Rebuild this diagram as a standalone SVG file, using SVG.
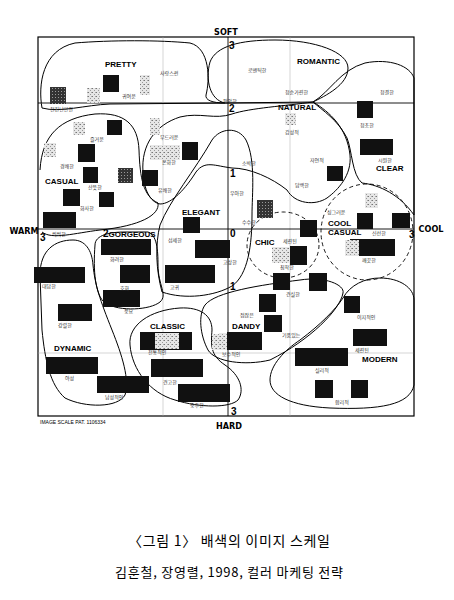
<svg xmlns="http://www.w3.org/2000/svg" width="454" height="600" viewBox="0 0 454 600">
<style>
.frame{fill:none;stroke:#000;stroke-width:1.2}
.axis{fill:none;stroke:#000;stroke-width:0.9}
.grid{fill:none;stroke:#aaa;stroke-width:0.5}
.blob{fill:none;stroke:#000;stroke-width:1}
.dash{fill:none;stroke:#000;stroke-width:0.9;stroke-dasharray:4 3}
.sw{fill:#111}
.dk{fill:url(#dkp)}
.st{fill:url(#stp)}
.lbl{font-family:"Noto Sans CJK KR","Liberation Serif",sans-serif;font-size:5px;fill:#333}
.key{font-family:"Liberation Sans",Arial,sans-serif;font-weight:bold;font-size:8px;fill:#000}
.ax{font-family:"DejaVu Sans Condensed","Liberation Sans",sans-serif;font-weight:bold;font-size:9px;fill:#000}
.num{font-family:"Liberation Sans",Arial,sans-serif;font-weight:bold;font-size:10px;fill:#000}
.small{font-family:"Liberation Sans",Arial,sans-serif;font-size:5px;fill:#000}
.cap{font-family:"Noto Sans CJK KR",sans-serif;fill:#000}
</style>
<defs>
<pattern id="stp" width="4" height="4" patternUnits="userSpaceOnUse">
<rect width="4" height="4" fill="#e6e6e6"/>
<rect x="0" y="0" width="1" height="1" fill="#777"/>
<rect x="2" y="2" width="1" height="1" fill="#999"/>
<rect x="3" y="0" width="1" height="1" fill="#aaa"/>
</pattern>
<pattern id="dkp" width="3" height="3" patternUnits="userSpaceOnUse">
<rect width="3" height="3" fill="#333"/>
<rect x="1" y="1" width="1" height="1" fill="#999"/>
</pattern>
</defs>
<rect width="454" height="600" fill="#fff"/>

<g id="frame">
<rect class="frame" x="38" y="37" width="376" height="379"/>
<line class="axis" x1="38" y1="103" x2="414" y2="103"/>
<line class="grid" x1="38" y1="353" x2="414" y2="353"/>
<line class="grid" x1="163" y1="37" x2="163" y2="416"/>
<line class="grid" x1="290" y1="37" x2="290" y2="416"/>
<line class="axis" x1="38" y1="229" x2="414" y2="229"/>
<line class="axis" x1="228" y1="37" x2="228" y2="416"/>
<text class="ax" x="226" y="35" text-anchor="middle">SOFT</text>
<text class="ax" x="229" y="429" text-anchor="middle">HARD</text>
<text class="ax" x="24" y="234" text-anchor="middle">WARM</text>
<text class="ax" x="431" y="232" text-anchor="middle">COOL</text>
<text class="num" x="229" y="49">3</text>
<text class="num" x="229" y="112">2</text>
<text class="num" x="230" y="177">1</text>
<text class="num" x="230" y="237">0</text>
<text class="num" x="230" y="290">1</text>
<text class="num" x="231" y="415">3</text>
<text class="num" x="40" y="241">3</text>
<text class="num" x="409" y="238">3</text>
<text class="small" x="40" y="424">IMAGE SCALE PAT. 1106334</text>
</g>

<g id="connectors">
<path id="pretty" class="blob" d="M42,108 C38,85 42,50 75,43 C110,40 160,40 190,43 C210,48 210,80 206,95 C205,100 212,103 225,103 L110,104 C85,105 60,113 42,108 Z"/>
<path id="romantic" class="blob" d="M225,103 C210,100 205,80 210,62 C216,46 240,40 275,40 C315,40 348,52 348,68 C348,85 325,96 313,102 Z"/>
<path id="clear" class="blob" d="M313,102 C330,92 340,70 365,63 C390,58 410,66 414,78 L414,215 C400,195 380,185 362,183 C352,175 352,150 347,138 C338,120 322,110 313,102 Z"/>
<path id="natural" class="blob" d="M143,172 C141,145 155,125 180,117 C200,112 215,120 232,114 C250,108 285,106 313,102 C330,112 347,128 350,155 C352,175 338,190 327,198 C315,206 295,204 287,190 C272,178 250,168 232,168 C215,166 205,160 196,172 C186,188 172,204 160,204 C150,202 144,190 143,172 Z"/>
<path id="casual" class="blob" d="M40,170 C42,135 60,118 95,114 C125,112 138,125 139,150 C140,178 143,196 158,203 C160,215 140,226 100,230 C75,233 52,240 42,232"/>
<path id="elegant" class="blob" d="M162,292 C156,270 155,245 160,225 C170,200 195,170 212,140 C220,128 238,126 246,140 C256,160 252,195 252,215 C252,245 248,275 232,286 C215,296 185,300 162,292 Z"/>
<path id="gorgeous" class="blob" d="M95,245 C95,235 110,232 125,232 L148,232 C157,235 158,250 158,265 C158,285 168,295 160,302 C150,310 120,312 105,303 C95,295 93,270 95,245 Z"/>
<path id="dynamic" class="blob" d="M40,275 C40,250 55,240 73,240 C85,240 92,250 93,265 C95,285 100,300 112,330 C122,355 130,380 125,395 C118,408 85,408 65,398 C50,385 45,360 42,330 Z"/>
<path id="classic" class="blob" d="M130,345 C128,325 150,310 180,308 C200,307 212,315 212,330 C211,345 210,355 225,365 C240,375 245,390 238,400 C230,408 200,408 175,400 C150,393 132,370 130,345 Z"/>
<path id="dandy" class="blob" d="M205,305 C215,292 260,285 300,280 C325,276 345,285 343,293 C340,310 310,340 270,360 C245,366 215,362 208,350 C200,335 198,315 205,305 Z"/>
<path id="modern" class="blob" d="M343,298 C350,285 365,278 380,278 C400,278 414,288 414,300 L414,385 C410,405 380,410 330,408 C290,406 270,395 270,380 C270,365 285,350 300,340 C320,325 335,310 343,298 Z"/>
<ellipse id="chic" class="dash" cx="283" cy="245" rx="36" ry="33"/>
<ellipse id="coolcasual" class="dash" cx="367" cy="232" rx="46" ry="48"/>
</g>

<g id="swatches">
<rect class="st" x="87" y="88" width="13" height="15"/>
<rect class="st" x="140" y="75" width="10" height="20"/>
<rect class="st" x="73" y="122" width="12" height="13"/>
<rect class="st" x="150" y="118" width="10" height="17"/>
<rect class="st" x="150" y="145" width="30" height="15"/>
<rect class="st" x="44" y="143" width="12" height="14"/>
<rect class="st" x="285" y="113" width="11" height="12"/>
<rect class="st" x="365" y="193" width="13" height="15"/>
<rect class="st" x="272" y="247" width="18" height="16"/>
<rect class="st" x="212" y="334" width="10" height="16"/>
<rect class="st" x="219" y="333" width="8" height="17"/>
<rect class="sw" x="103" y="75" width="16" height="17"/>
<rect class="dk" x="50" y="87" width="16" height="17"/>
<rect class="sw" x="107" y="120" width="15" height="15"/>
<rect class="sw" x="78" y="144" width="17" height="18"/>
<rect class="sw" x="182" y="142" width="16" height="18"/>
<rect class="sw" x="357" y="101" width="16" height="17"/>
<rect class="sw" x="360" y="139" width="33" height="16"/>
<rect class="sw" x="327" y="166" width="16" height="15"/>
<rect class="sw" x="83" y="167" width="15" height="16"/>
<rect class="dk" x="118" y="168" width="15" height="15"/>
<rect class="sw" x="142" y="170" width="16" height="16"/>
<rect class="sw" x="63" y="189" width="17" height="17"/>
<rect class="sw" x="99" y="192" width="15" height="15"/>
<rect class="sw" x="43" y="212" width="33" height="16"/>
<rect class="sw" x="183" y="217" width="17" height="16"/>
<rect class="sw" x="195" y="240" width="35" height="18"/>
<rect class="sw" x="101" y="239" width="50" height="16"/>
<rect class="sw" x="34" y="267" width="51" height="16"/>
<rect class="sw" x="120" y="265" width="30" height="18"/>
<rect class="sw" x="165" y="265" width="50" height="18"/>
<rect class="sw" x="103" y="290" width="37" height="17"/>
<rect class="sw" x="58" y="304" width="34" height="17"/>
<rect class="sw" x="140" y="332" width="52" height="18"/>
<rect class="st" x="155" y="333" width="24" height="16"/>
<rect class="sw" x="46" y="357" width="52" height="17"/>
<rect class="sw" x="97" y="376" width="52" height="17"/>
<rect class="sw" x="151" y="359" width="52" height="18"/>
<rect class="sw" x="178" y="384" width="52" height="18"/>
<rect class="sw" x="259" y="294" width="17" height="18"/>
<rect class="sw" x="264" y="315" width="18" height="17"/>
<rect class="sw" x="227" y="332" width="35" height="18"/>
<rect class="sw" x="344" y="296" width="16" height="17"/>
<rect class="sw" x="353" y="329" width="34" height="17"/>
<rect class="sw" x="295" y="348" width="53" height="18"/>
<rect class="sw" x="315" y="380" width="18" height="18"/>
<rect class="sw" x="351" y="380" width="17" height="18"/>
<rect class="dk" x="257" y="200" width="16" height="18"/>
<rect class="sw" x="357" y="213" width="16" height="16"/>
<rect class="sw" x="392" y="213" width="18" height="15"/>
<rect class="sw" x="300" y="220" width="17" height="17"/>
<rect class="sw" x="350" y="239" width="45" height="17"/>
<rect class="st" x="345" y="240" width="14" height="16"/>
<rect class="sw" x="290" y="246" width="17" height="19"/>
<rect class="sw" x="273" y="273" width="17" height="17"/>
<rect class="sw" x="309" y="273" width="18" height="18"/>
</g>

<g id="keywords">
<text class="key" x="105" y="67">PRETTY</text>
<text class="key" x="297" y="64">ROMANTIC</text>
<text class="key" x="278" y="110">NATURAL</text>
<text class="key" x="45" y="184">CASUAL</text>
<text class="key" x="376" y="171">CLEAR</text>
<text class="key" x="182" y="215">ELEGANT</text>
<text class="key" x="103" y="237"><tspan class="num" font-size="10">2</tspan>GORGEOUS</text>
<text class="key" x="255" y="245">CHIC</text>
<text class="key" x="328" y="226">COOL</text>
<text class="key" x="328" y="235">CASUAL</text>
<text class="key" x="150" y="329">CLASSIC</text>
<text class="key" x="232" y="329">DANDY</text>
<text class="key" x="54" y="351">DYNAMIC</text>
<text class="key" x="362" y="362">MODERN</text>
</g>

<g id="labels">
<text class="lbl" x="160" y="75">사랑스런</text>
<text class="lbl" x="122" y="98">귀여운</text>
<text class="lbl" x="50" y="111">천진난만한</text>
<text class="lbl" x="90" y="141">즐거운</text>
<text class="lbl" x="60" y="168">경쾌한</text>
<text class="lbl" x="160" y="139">부드러운</text>
<text class="lbl" x="162" y="164">온화한</text>
<text class="lbl" x="248" y="72">로맨틱한</text>
<text class="lbl" x="285" y="94">청순가련한</text>
<text class="lbl" x="380" y="94">청결한</text>
<text class="lbl" x="223" y="103">편안한</text>
<text class="lbl" x="285" y="134">감성적</text>
<text class="lbl" x="360" y="127">청초한</text>
<text class="lbl" x="378" y="162">시원한</text>
<text class="lbl" x="310" y="162">자연적</text>
<text class="lbl" x="295" y="187">담백한</text>
<text class="lbl" x="242" y="165">소박한</text>
<text class="lbl" x="230" y="195">우아한</text>
<text class="lbl" x="242" y="224">수수한</text>
<text class="lbl" x="327" y="214">싱그러운</text>
<text class="lbl" x="88" y="189">산뜻한</text>
<text class="lbl" x="80" y="210">화사한</text>
<text class="lbl" x="158" y="192">유쾌한</text>
<text class="lbl" x="52" y="236">씩씩한</text>
<text class="lbl" x="168" y="242">섬세한</text>
<text class="lbl" x="223" y="264">고상한</text>
<text class="lbl" x="110" y="261">화려한</text>
<text class="lbl" x="42" y="288">대담한</text>
<text class="lbl" x="120" y="290">호화</text>
<text class="lbl" x="170" y="289">고귀</text>
<text class="lbl" x="124" y="313">풍요</text>
<text class="lbl" x="58" y="327">강렬한</text>
<text class="lbl" x="283" y="243">세련된</text>
<text class="lbl" x="372" y="235">신선한</text>
<text class="lbl" x="362" y="262">깨끗한</text>
<text class="lbl" x="280" y="269">침착한</text>
<text class="lbl" x="286" y="296">견실한</text>
<text class="lbl" x="240" y="317">점잖은</text>
<text class="lbl" x="282" y="337">기품있는</text>
<text class="lbl" x="222" y="356">보수적인</text>
<text class="lbl" x="357" y="319">이지적인</text>
<text class="lbl" x="355" y="352">세련된</text>
<text class="lbl" x="315" y="372">실리적</text>
<text class="lbl" x="335" y="404">합리적</text>
<text class="lbl" x="148" y="354">전통적인</text>
<text class="lbl" x="65" y="380">야성</text>
<text class="lbl" x="105" y="399">남성적인</text>
<text class="lbl" x="163" y="384">견고한</text>
<text class="lbl" x="190" y="407">중후한</text>
</g>

<g id="caption">
<text class="cap" x="229" y="546" font-size="14" text-anchor="middle" textLength="202" lengthAdjust="spacing">〈그림 1〉 배색의 이미지 스케일</text>
<text class="cap" x="229" y="577" font-size="13" text-anchor="middle" textLength="228" lengthAdjust="spacing">김훈철, 장영렬, 1998, 컬러 마케팅 전략</text>
</g>
</svg>
